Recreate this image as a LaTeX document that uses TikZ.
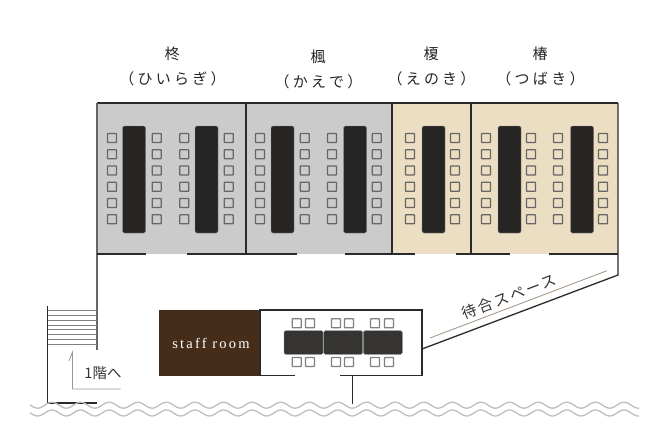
\documentclass[tikz,border=0pt]{standalone}
\usepackage{fontspec}
\setmainfont{Liberation Serif}
\newfontfamily\jpfont[LetterSpace=22]{Noto Sans CJK JP}
\newfontfamily\jpplain{Noto Sans CJK JP}
\newfontfamily\jptight[LetterSpace=16]{Noto Sans CJK JP}
\newfontfamily\staff[LetterSpace=15]{Liberation Serif}
\definecolor{roomgray}{HTML}{CBCBCB}
\definecolor{roomtan}{HTML}{EBDEC3}
\definecolor{wallc}{HTML}{2A2A2A}
\definecolor{tablec}{HTML}{262523}
\definecolor{tablelt}{HTML}{353432}
\definecolor{brownc}{HTML}{452D1A}
\definecolor{wavec}{HTML}{BEBEBE}
\definecolor{tanline}{HTML}{A89A8C}
\definecolor{arrowc}{HTML}{999999}
\tikzset{
  wall/.style={draw=wallc,line width=1.3pt},
  graywall/.style={draw=black!60,line width=1.5pt},
  seat/.style={draw=black!60,line width=1.3pt,rounded corners=0.6pt,minimum size=9pt,inner sep=0pt},
  banq/.style={fill=tablec,draw=black!45,line width=0.4pt,rounded corners=1.5pt},
  title/.style={font=\fontsize{15}{15}\selectfont\jpplain,text=black!85,inner sep=0pt},
  subtitle/.style={font=\fontsize{15}{15}\selectfont\jpfont,text=black!85,inner sep=0pt},
  stair/.style={draw=black!50,line width=0.7pt},
  wave/.style={draw=wavec,line width=1.3pt}
}
\begin{document}
\begin{tikzpicture}[x=1pt,y=-1pt]
\useasboundingbox (0,0) rectangle (659,436);
% rooms
\fill[roomgray] (97,103) rectangle (392,254);
\fill[roomtan] (392,103) rectangle (618,254);
\draw[wall] (97,103) -- (618,103);
\draw[graywall] (97,103) -- (97,350);
\foreach \x in {246,392,471} \draw[wall] (\x,103) -- (\x,254);
\draw[wall] (618,103) -- (618,275) -- (422,349);
% lower walls of rooms
\foreach \a/\b in {97/146,187/297,345/415,456/510,549/618}
  \draw[wall] (\a,254) -- (\b,254);
% tables in rooms
\foreach \x in {122.5,195,271,343.5,422,498,570.5}
  \draw[banq] (\x,126) rectangle (\x+23,233);
% seats
\foreach \x in {112,156.7,184.3,228.7,260,304.7,332,376.7,410,455,486,531,558,603}
  \foreach \y in {138,154.2,170.5,186.7,203,219.3}
    \node[seat] at (\x,\y) {};
% titles
\node[title] (t1) at (172,54) {柊};
\node[subtitle] (s1) at (172.5,79) {（ひいらぎ）};
\node[title] (t2) at (318,57) {楓};
\node[subtitle] (s2) at (318.5,82) {（かえで）};
\node[title] (t3) at (431,54) {榎};
\node[subtitle] (s3) at (431.5,79) {（えのき）};
\node[title] (t4) at (540,54) {椿};
\node[subtitle] (s4) at (540.5,79) {（つばき）};
% stairs
\draw[wall,line width=0.9pt] (47.5,306) -- (47.5,404);
\foreach \y in {310,315,320,325,329.5,334,339,344}
  \draw[stair] (47.5,\y) -- (97,\y);
\draw[wall,line width=1.2pt] (47.5,403) -- (97,403);
% arrow
\draw[arrowc,line width=0.8pt] (120.5,389) -- (72.5,389) -- (72.5,352) -- (69,361);
\node[font=\fontsize{14.5}{14.5}\selectfont\jpplain,text=black!80,inner sep=0pt] (down) at (103,373) {1階へ};
% staff room
\fill[brownc] (158.5,309.5) rectangle (260,376);
\node[font=\fontsize{14.5}{14.5}\selectfont\staff,text=white,inner sep=0pt] (staffl) at (211,343) {staff room};
% lower room
\draw[wall] (295,375.5) -- (260,375.5) -- (260,310) -- (422,310) -- (422,375.5) -- (339.5,375.5);
\draw[wall] (352.5,375.5) -- (352.5,404);
\foreach \x in {284,323.7,363.3}
  \draw[banq,fill=tablelt] (\x,330.7) rectangle (\x+39,354.3);
\foreach \x in {296.7,310,336,349,375,389}
  \foreach \y in {323.3,362}
    \node[seat,draw=black!50] at (\x,\y) {};
% waiting
\draw[tanline,line width=0.9pt] (430,338) -- (607,270.7);
\node[font=\fontsize{15}{15}\selectfont\jptight,text=black!80,inner sep=0pt,rotate=21] (wait) at (509,296.5) {待合スペース};
% waves
\foreach \yy in {405.2,413}{
  \draw[wave] plot[domain=30:639,samples=300,smooth] (\x,{\yy-3*cos((\x-52)/28.6*360)});
}
\end{tikzpicture}
\end{document}
